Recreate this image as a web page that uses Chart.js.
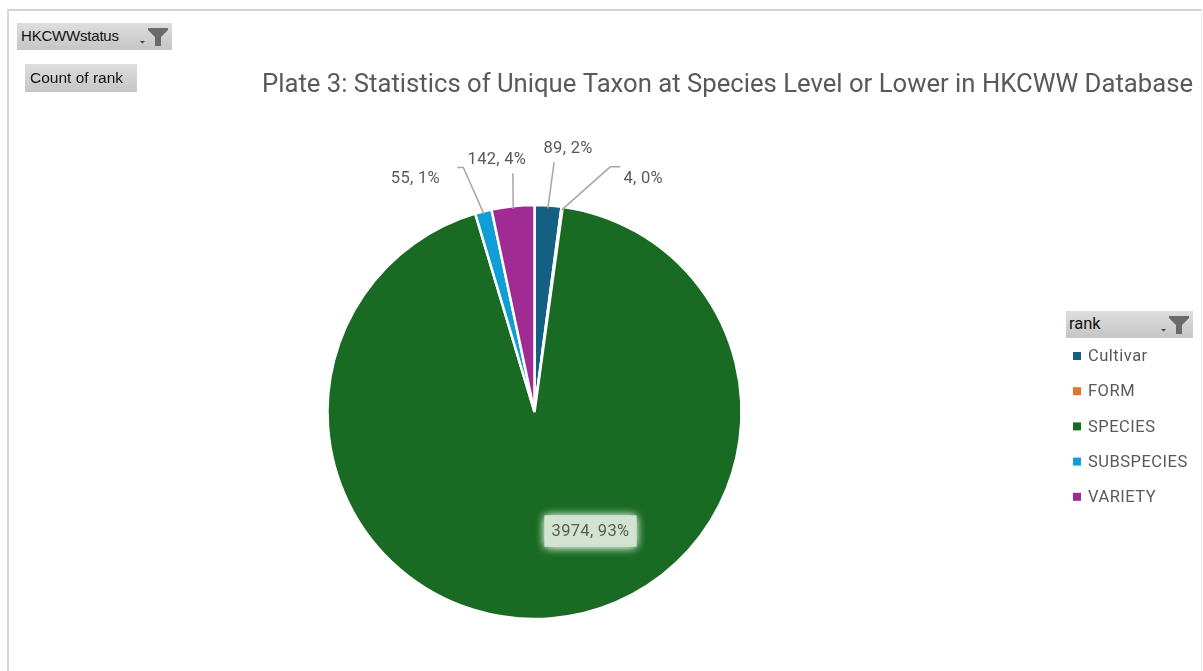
<!DOCTYPE html>
<html><head><meta charset="utf-8">
<script src="https://cdn.jsdelivr.net/npm/chart.js@4.4.1/dist/chart.umd.min.js"></script>
<style>
html,body{margin:0;padding:0;background:#fff;width:1203px;height:671px;overflow:hidden;}
#frame{position:absolute;left:7px;top:9px;width:1192px;height:700px;border-left:2px solid #d9d9d9;border-top:2px solid #d4d4d4;border-right:1px solid #ececec;}
#c{position:absolute;left:0;top:0;}
.btn{position:absolute;background:linear-gradient(#dedede,#c5c5c5);font-family:"Liberation Sans",Arial,sans-serif;color:#111;box-sizing:border-box;white-space:nowrap;}
.btn span{position:absolute;}
.btn svg{position:absolute;}
</style></head>
<body>
<div id="frame"></div>
<canvas id="c" width="1203" height="671"></canvas>
<div class="btn" style="left:17px;top:23px;width:155px;height:27px;font-size:15px;">
  <span style="left:4px;top:4px;letter-spacing:-0.2px;">HKCWWstatus</span>
  <svg style="left:122px;top:3px" width="30" height="22" viewBox="0 0 30 22">
    <polygon points="1,15 6,15 3.5,17.5" fill="#444"/>
    <polygon points="9,2 29,2 29,4 22,11 22,20 16,20 16,11 9,4" fill="#6a6a6a"/>
  </svg>
</div>
<div class="btn" style="left:25px;top:64px;width:112px;height:28px;font-size:15.5px;">
  <span style="left:5px;top:5px;">Count of rank</span>
</div>
<div class="btn" style="left:1066px;top:311px;width:127px;height:27px;font-size:16.5px;font-family:Roboto,sans-serif;">
  <span style="left:3px;top:3px;">rank</span>
  <svg style="left:94px;top:3px" width="30" height="22" viewBox="0 0 30 22">
    <polygon points="1,15 6,15 3.5,17.5" fill="#444"/>
    <polygon points="9,2 29,2 29,4 22,11 22,20 16,20 16,11 9,4" fill="#6a6a6a"/>
  </svg>
</div>
<script>
const categories = ['Cultivar', 'FORM', 'SPECIES', 'SUBSPECIES', 'VARIETY'];
const counts = [89, 4, 3974, 55, 142];
const percentLabels = ['2%', '0%', '93%', '1%', '4%'];
const sliceColors = ['#156082', '#E97132', '#196B24', '#0F9ED5', '#A02B93'];
const chartTitle = 'Plate 3: Statistics of Unique Taxon at Species Level or Lower in HKCWW Database';

// label placement styles (offsets from the arc's outer mid-point, or from centre when inside)
const labelPlacement = [
  {line: [[6, -43]], text: [20, -57]},
  {line: [[48, -40], [58, -40]], text: [81, -28]},
  {inside: true, text: [56, 119]},
  {line: [[-20, -44], [-26, -44]], text: [-68, -33]},
  {line: [[0, -33]], text: [-16, -46]}
];

const labelFont = '16.5px Roboto, "Noto Sans", sans-serif';
const textGrey = '#595959';

const decor = {
  id: 'decor',
  afterDraw(chart) {
    const ctx = chart.ctx;
    // title
    ctx.save();
    ctx.font = '26px Roboto, sans-serif';
    ctx.fillStyle = textGrey;
    ctx.textBaseline = 'middle';
    const w = ctx.measureText(chartTitle).width;
    const target = 931;
    ctx.translate(262, 85);
    ctx.scale(target / w, 1);
    ctx.fillText(chartTitle, 0, 0);
    ctx.restore();

    // data labels
    const meta = chart.getDatasetMeta(0);
    const ds = chart.data.datasets[0];
    meta.data.forEach((arc, i) => {
      const p = arc.getProps(['x', 'y', 'startAngle', 'endAngle', 'outerRadius'], true);
      const mid = (p.startAngle + p.endAngle) / 2;
      const ax = p.x + Math.cos(mid) * (p.outerRadius - 3);
      const ay = p.y + Math.sin(mid) * (p.outerRadius - 3);
      const pl = labelPlacement[i];
      const txt = ds.data[i] + ', ' + percentLabels[i];
      ctx.save();
      ctx.font = labelFont;
      ctx.letterSpacing = '0.3px';
      ctx.textAlign = 'center';
      ctx.textBaseline = 'middle';
      if (pl.inside) {
        const cx = p.x + pl.text[0], cy = p.y + pl.text[1];
        const tw = ctx.measureText(txt).width;
        const bw = tw + 14, bh = 31;
        ctx.save();
        ctx.shadowColor = 'rgba(235,245,235,0.95)';
        ctx.shadowBlur = 9;
        ctx.fillStyle = '#d3e3d2';
        ctx.fillRect(cx - bw / 2, cy - bh / 2, bw, bh);
        ctx.fillRect(cx - bw / 2, cy - bh / 2, bw, bh);
        ctx.restore();
        ctx.fillStyle = textGrey;
        ctx.fillText(txt, cx, cy + 1);
      } else {
        ctx.strokeStyle = '#a6a6a6';
        ctx.lineWidth = 1.5;
        ctx.beginPath();
        ctx.moveTo(ax, ay);
        pl.line.forEach(pt => ctx.lineTo(ax + pt[0] + 3 * Math.cos(mid), ay + pt[1] + 3 * Math.sin(mid)));
        ctx.stroke();
        ctx.fillStyle = textGrey;
        ctx.fillText(txt, ax + pl.text[0] + 3 * Math.cos(mid), ay + pl.text[1] + 3 * Math.sin(mid));
      }
      ctx.restore();
    });

    // legend
    ctx.save();
    ctx.font = labelFont;
    ctx.letterSpacing = '0.5px';
    ctx.textBaseline = 'middle';
    chart.data.labels.forEach((lab, i) => {
      const y = 356 + i * 35.2;
      ctx.fillStyle = ds.backgroundColor[i];
      ctx.fillRect(1073, y - 4, 8, 8);
      ctx.fillStyle = textGrey;
      ctx.fillText(lab, 1088, y + 1);
    });
    ctx.restore();
  }
};

new Chart(document.getElementById('c'), {
  type: 'pie',
  data: {
    labels: categories,
    datasets: [{
      data: counts,
      backgroundColor: sliceColors,
      borderColor: '#ffffff',
      borderWidth: 2.5,
      hoverOffset: 0,
      offset: 0
    }]
  },
  options: {
    responsive: false,
    animation: false,
    radius: 207,
    layout: {padding: {left: 327, right: 461, top: 205, bottom: 52}},
    plugins: {
      legend: {display: false},
      title: {display: false},
      tooltip: {enabled: false}
    }
  },
  plugins: [decor]
});
</script>
</body></html>
